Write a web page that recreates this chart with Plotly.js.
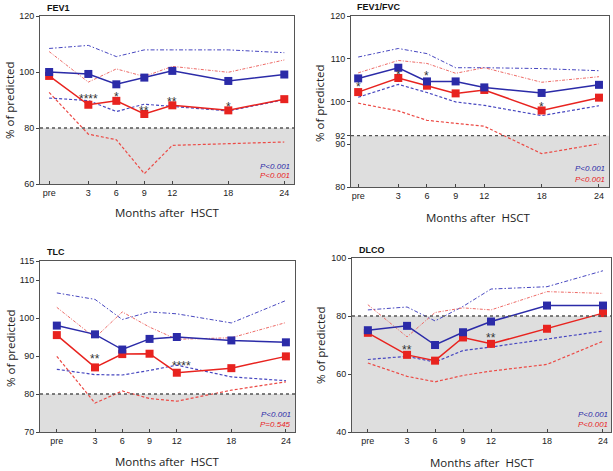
<!DOCTYPE html>
<html>
<head>
<meta charset="utf-8">
<script src="https://cdn.plot.ly/plotly-3.0.1.min.js"></script>
<style>html,body{margin:0;padding:0;background:#fff;}#chart{width:613px;height:471px;}</style>
</head>
<body>
<div id="chart"></div>
<script>
// ---- data ----
const months = ['pre', '3', '6', '9', '12', '18', '24'];
const monthPos = [-1.2, 3, 6, 9, 12, 18, 24];

const fev1BlueMean  = [100, 99.3, 95.6, 98, 100.4, 96.8, 99.1];
const fev1RedMean   = [98.6, 88.3, 89.7, 85, 88.1, 86.3, 90.3];
const fev1BlueUpper = [108.4, 109.5, 105.5, 107.9, 107.9, 107.9, 106.9];
const fev1BlueLower = [90.7, 89.8, 85.9, 88.5, 87.7, 86.1, 90.1];
const fev1RedUpper  = [107.3, 96.4, 101.1, 98.4, 102, 99.9, 104.3];
const fev1RedLower  = [92.7, 77.8, 75.8, 63.7, 73.8, 74.3, 75];

const fvcBlueMean  = [105.4, 107.9, 104.7, 104.7, 103.3, 102, 103.9];
const fvcRedMean   = [102.2, 105.5, 103.7, 101.9, 102.7, 97.9, 100.9];
const fvcBlueUpper = [110.4, 112.4, 111.2, 107.9, 107.9, 107.7, 107.2];
const fvcBlueLower = [101, 104, 102.1, 99.9, 99.1, 96.7, 99];
const fvcRedUpper  = [106.7, 109.6, 108.9, 106.6, 107.9, 104.5, 105.8];
const fvcRedLower  = [99.6, 97.8, 95.6, 94.9, 94.2, 87.8, 90.1];

const tlcBlueMean  = [98, 95.7, 91.7, 94.5, 95, 94.1, 93.6];
const tlcRedMean   = [95.5, 87, 90.5, 90.6, 85.6, 86.8, 89.9];
const tlcBlueUpper = [106.6, 104.9, 99.6, 101.6, 101.1, 98.7, 104.6];
const tlcBlueLower = [86.5, 85.1, 85, 86.2, 87.6, 84.5, 83.5];
const tlcRedUpper  = [102.8, 94.8, 101.6, 97.6, 94.4, 94.8, 98.8];
const tlcRedLower  = [89.9, 77.6, 80.8, 78.8, 78.1, 81, 83.2];

const dlcoBlueMean  = [75.1, 76.6, 70, 74.4, 78.1, 83.6, 83.6];
const dlcoRedMean   = [74.2, 66.6, 64.6, 72.6, 70.4, 75.6, 81];
const dlcoBlueUpper = [82.1, 83.1, 78.3, 83.3, 89.3, 90.1, 95.6];
const dlcoBlueLower = [65, 66.1, 64.1, 68.1, 69.3, 72.1, 74.8];
const dlcoRedUpper  = [83.9, 72.8, 81.2, 82.8, 82.1, 88.4, 87.8];
const dlcoRedLower  = [63.8, 59.2, 57.3, 59.5, 61, 63.3, 71.3];

const panelTitles = ['FEV1', 'FEV1/FVC', 'TLC', 'DLCO'];
const thresholds = [80, 92, 80, 80];
const yTicks = [[60, 80, 100, 120], [80, 90, 92, 100, 110, 120], [70, 80, 90, 100, 110, 115], [40, 60, 80, 100]];
const pBlue = ['P<0.001', 'P<0.001', 'P<0.001', 'P<0.001'];
const pRed  = ['P<0.001', 'P<0.001', 'P=0.545', 'P<0.001'];

const starX = [[3, 6, 9, 12, 18], [-1.2, 3, 6, 18], [3, 12.5], [3, 12]];
const starY = [[91.6, 92.2, 87.1, 90.4, 88.5], [104, 106.8, 106.6, 99.5], [90, 88.2], [69.3, 73.3]];
const starText = [['****', '*', '**', '**', '*'], ['*', '*', '*', '*'], ['**', '****'], ['**', '**']];

// ---- layout helpers ----
const W = 613, H = 471;
const px = x => x / W;
const py = y => 1 - y / H;

const BLUE = '#2b2ba8', RED = '#e8231f';
const BLUE_BAND = '#4747c0', RED_BAND = '#ec4a45', RED_BAND_UP = '#ee6a66';

const panels = [
  {blue: [fev1BlueMean, fev1BlueUpper, fev1BlueLower], red: [fev1RedMean, fev1RedUpper, fev1RedLower],
   box: [40, 294, 16, 184], xr: [-2.18, 25.04], yr: [60, 120],
   title: [45, 8], ytitle: [10, 100], xtitle: [167, 212], pv: [292, 167, 176]},
  {blue: [fvcBlueMean, fvcBlueUpper, fvcBlueLower], red: [fvcRedMean, fvcRedUpper, fvcRedLower],
   box: [351, 609, 16, 187], xr: [-1.95, 25.05], yr: [80, 120],
   title: [355, 7], ytitle: [320, 103], xtitle: [478, 217], pv: [607, 169, 179]},
  {blue: [tlcBlueMean, tlcBlueUpper, tlcBlueLower], red: [tlcRedMean, tlcRedUpper, tlcRedLower],
   box: [40, 295, 261, 432], xr: [-3.05, 25.0], yr: [70, 115],
   title: [45, 252], ytitle: [10, 348], xtitle: [167, 461], pv: [293, 414, 424]},
  {blue: [dlcoBlueMean, dlcoBlueUpper, dlcoBlueLower], red: [dlcoRedMean, dlcoRedUpper, dlcoRedLower],
   box: [352, 611, 258, 432], xr: [-2.9, 24.86], yr: [40, 100],
   title: [357, 250], ytitle: [320, 345], xtitle: [482, 462], pv: [610, 414, 424]}
];

const traces = [];
const layout = {
  width: W, height: H,
  margin: {l: 0, r: 0, t: 0, b: 0},
  paper_bgcolor: '#fff', plot_bgcolor: '#fff',
  showlegend: false,
  shapes: [], annotations: [],
  font: {family: 'Liberation Sans, Arial, sans-serif', color: '#222'}
};

panels.forEach((p, i) => {
  const n = i === 0 ? '' : String(i + 1);
  const xa = 'x' + n, ya = 'y' + n;
  const [l, r, t, b] = p.box;
  layout['xaxis' + n] = {
    domain: [px(l), px(r)], range: p.xr, anchor: ya,
    tickvals: monthPos, ticktext: months,
    ticks: 'inside', ticklen: 3, tickcolor: '#444', tickwidth: 1,
    showline: true, linecolor: '#555', linewidth: 1, mirror: true,
    showgrid: false, zeroline: false, fixedrange: true,
    tickfont: {size: 9, family: 'Liberation Sans, Arial, sans-serif', color: '#222'}
  };
  layout['yaxis' + n] = {
    domain: [py(b), py(t)], range: p.yr, anchor: xa,
    tickvals: yTicks[i], ticktext: yTicks[i].map(String),
    ticks: 'outside', ticklen: 3, tickcolor: '#444', tickwidth: 1,
    showline: true, linecolor: '#555', linewidth: 1, mirror: true,
    showgrid: false, zeroline: false, fixedrange: true,
    tickfont: {size: 9, family: 'Liberation Sans, Arial, sans-serif', color: '#222'}
  };
  // shaded region below threshold
  layout.shapes.push({type: 'rect', xref: xa + ' domain', yref: ya, x0: 0, x1: 1,
    y0: p.yr[0], y1: thresholds[i], fillcolor: '#dedede', line: {width: 0}, layer: 'below'});
  layout.shapes.push({type: 'line', xref: xa + ' domain', yref: ya, x0: 0, x1: 1,
    y0: thresholds[i], y1: thresholds[i], line: {color: '#555', width: 1.3, dash: 'dot'}, layer: 'above'});

  // bands
  traces.push({x: monthPos, y: p.blue[1], xaxis: xa, yaxis: ya, mode: 'lines', hoverinfo: 'skip',
    line: {color: BLUE_BAND, width: 1, dash: '4px,2px,1.5px,2px'}});
  traces.push({x: monthPos, y: p.blue[2], xaxis: xa, yaxis: ya, mode: 'lines', hoverinfo: 'skip',
    line: {color: BLUE_BAND, width: 1.2, dash: '3px,2px'}});
  traces.push({x: monthPos, y: p.red[1], xaxis: xa, yaxis: ya, mode: 'lines', hoverinfo: 'skip',
    line: {color: RED_BAND_UP, width: 1, dash: '3px,1.5px,1px,1.5px'}});
  traces.push({x: monthPos, y: p.red[2], xaxis: xa, yaxis: ya, mode: 'lines', hoverinfo: 'skip',
    line: {color: RED_BAND, width: 1.2, dash: '3px,2px'}});
  // means
  traces.push({x: monthPos, y: p.red[0], xaxis: xa, yaxis: ya, mode: 'lines+markers',
    line: {color: RED, width: 1.5}, marker: {symbol: 'square', size: 8, color: RED}});
  traces.push({x: monthPos, y: p.blue[0], xaxis: xa, yaxis: ya, mode: 'lines+markers',
    line: {color: BLUE, width: 1.5}, marker: {symbol: 'square', size: 8, color: BLUE}});

  // titles & labels
  layout.annotations.push({text: '<b>' + panelTitles[i] + '</b>', xref: 'paper', yref: 'paper',
    x: px(p.title[0]), y: py(p.title[1]), xanchor: 'left', yanchor: 'middle', showarrow: false,
    font: {size: 9, family: 'Liberation Sans, Arial, sans-serif', color: '#111'}});
  layout.annotations.push({text: '% of predicted', xref: 'paper', yref: 'paper',
    x: px(p.ytitle[0]), y: py(p.ytitle[1]), xanchor: 'center', yanchor: 'middle', textangle: -90,
    showarrow: false, font: {size: 11.5, family: 'Open Sans, sans-serif', color: '#222'}});
  layout.annotations.push({text: 'Months after\u00A0 HSCT', xref: 'paper', yref: 'paper',
    x: px(p.xtitle[0]), y: py(p.xtitle[1]), xanchor: 'center', yanchor: 'middle',
    showarrow: false, font: {size: 11.5, family: 'Open Sans, sans-serif', color: '#222'}});
  layout.annotations.push({text: '<i>' + pBlue[i] + '</i>', xref: 'paper', yref: 'paper',
    x: px(p.pv[0]), y: py(p.pv[1]), xanchor: 'right', yanchor: 'middle', showarrow: false,
    font: {size: 8, family: 'Liberation Sans, Arial, sans-serif', color: BLUE}});
  layout.annotations.push({text: '<i>' + pRed[i] + '</i>', xref: 'paper', yref: 'paper',
    x: px(p.pv[0]), y: py(p.pv[2]), xanchor: 'right', yanchor: 'middle', showarrow: false,
    font: {size: 8, family: 'Liberation Sans, Arial, sans-serif', color: RED}});
  // significance stars
  starX[i].forEach((sx, k) => {
    layout.annotations.push({text: starText[i][k], xref: xa, yref: ya, x: sx, y: starY[i][k],
      xanchor: 'center', yanchor: 'middle', yshift: -3, showarrow: false,
      font: {size: 12, family: 'Liberation Sans, Arial, sans-serif', color: '#333'}});
  });
});

Plotly.newPlot('chart', traces, layout, {staticPlot: true, displayModeBar: false});
</script>
</body>
</html>
